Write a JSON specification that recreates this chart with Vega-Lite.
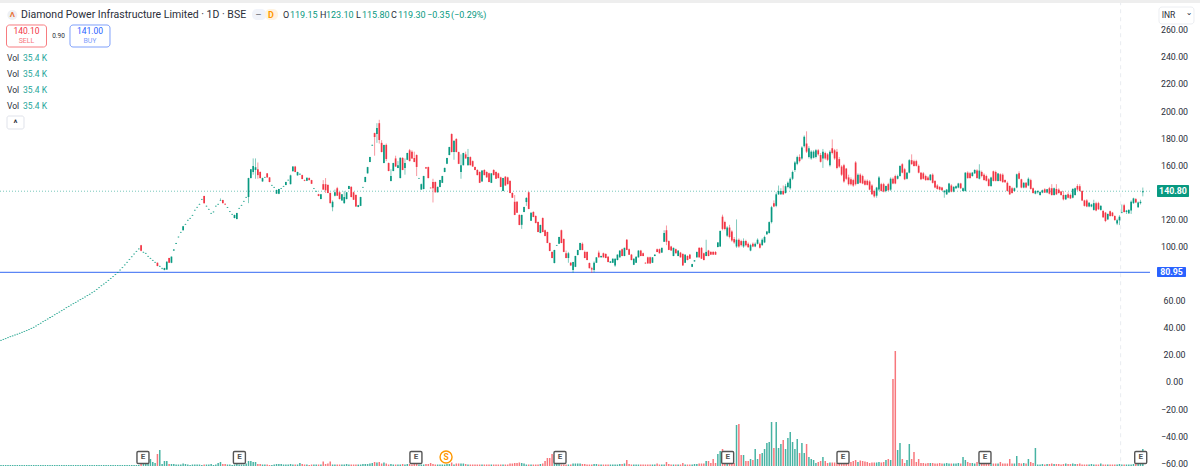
{"$schema":"https://vega.github.io/schema/vega-lite/v6.json","description":"Diamond Power daily candles with volume","width":1200,"height":473,"padding":0,"autosize":"none","background":"white","config":{"view":{"stroke":null},"text":{"font":"Roboto"}},
"datasets":{"bars":[
{"i":0,"o":30.6,"h":31.2,"l":30.4,"c":31,"v":10},{"i":1,"o":31.2,"h":31.8,"l":31,"c":31.6,"v":10},{"i":2,"o":31.8,"h":32.4,"l":31.6,"c":32.2,"v":10},{"i":3,"o":32.5,"h":33.1,"l":32.3,"c":32.9,"v":10},{"i":4,"o":33.2,"h":33.8,"l":33,"c":33.6,"v":10},{"i":5,"o":33.8,"h":34.4,"l":33.6,"c":34.2,"v":10},{"i":6,"o":34.5,"h":35.1,"l":34.3,"c":34.9,"v":10},{"i":7,"o":35.1,"h":35.7,"l":34.9,"c":35.5,"v":10},{"i":8,"o":35.8,"h":36.4,"l":35.6,"c":36.2,"v":10},{"i":9,"o":36.5,"h":37.1,"l":36.3,"c":36.9,"v":10},
{"i":10,"o":37.1,"h":37.7,"l":36.9,"c":37.5,"v":10},{"i":11,"o":37.8,"h":38.4,"l":37.6,"c":38.2,"v":10},{"i":12,"o":38.5,"h":39.1,"l":38.3,"c":38.9,"v":10},{"i":13,"o":39.4,"h":40,"l":39.2,"c":39.8,"v":10},{"i":14,"o":40.2,"h":40.8,"l":40,"c":40.6,"v":10},{"i":15,"o":41.2,"h":41.8,"l":41,"c":41.6,"v":10},{"i":16,"o":42.2,"h":42.8,"l":42,"c":42.6,"v":10},{"i":17,"o":43.2,"h":43.8,"l":43,"c":43.6,"v":10},{"i":18,"o":44.3,"h":44.9,"l":44.1,"c":44.7,"v":10},{"i":19,"o":45.3,"h":45.9,"l":45.1,"c":45.7,"v":10},
{"i":20,"o":46.3,"h":46.9,"l":46.1,"c":46.7,"v":10},{"i":21,"o":47.3,"h":47.9,"l":47.1,"c":47.7,"v":10},{"i":22,"o":48.3,"h":48.9,"l":48.1,"c":48.7,"v":10},{"i":23,"o":49.4,"h":50,"l":49.2,"c":49.8,"v":10},{"i":24,"o":50.4,"h":51,"l":50.2,"c":50.8,"v":10},{"i":25,"o":51.4,"h":52,"l":51.2,"c":51.8,"v":10},{"i":26,"o":52.4,"h":53,"l":52.2,"c":52.8,"v":10},{"i":27,"o":53.5,"h":54.1,"l":53.3,"c":53.9,"v":10},{"i":28,"o":54.6,"h":55.2,"l":54.4,"c":55,"v":10},{"i":29,"o":55.6,"h":56.2,"l":55.4,"c":56,"v":10},
{"i":30,"o":56.6,"h":57.2,"l":56.4,"c":57,"v":10},{"i":31,"o":57.6,"h":58.2,"l":57.4,"c":58,"v":10},{"i":32,"o":58.6,"h":59.2,"l":58.4,"c":59,"v":10},{"i":33,"o":59.6,"h":60.2,"l":59.4,"c":60,"v":10},{"i":34,"o":60.6,"h":61.2,"l":60.4,"c":61,"v":10},{"i":35,"o":61.6,"h":62.2,"l":61.4,"c":62,"v":10},{"i":36,"o":62.6,"h":63.2,"l":62.4,"c":63,"v":10},{"i":37,"o":63.6,"h":64.2,"l":63.4,"c":64,"v":10},{"i":38,"o":64.6,"h":65.2,"l":64.4,"c":65,"v":10},{"i":39,"o":65.6,"h":66.2,"l":65.4,"c":66,"v":10},
{"i":40,"o":66.8,"h":67.4,"l":66.6,"c":67.2,"v":10},{"i":41,"o":68.1,"h":68.7,"l":67.9,"c":68.5,"v":10},{"i":42,"o":69.4,"h":70,"l":69.2,"c":69.8,"v":10},{"i":43,"o":70.8,"h":71.4,"l":70.6,"c":71.2,"v":10},{"i":44,"o":72.1,"h":72.7,"l":71.9,"c":72.5,"v":10},{"i":45,"o":73.4,"h":74,"l":73.2,"c":73.8,"v":10},{"i":46,"o":74.8,"h":75.4,"l":74.6,"c":75.2,"v":10},{"i":47,"o":76.2,"h":76.8,"l":76,"c":76.6,"v":10},{"i":48,"o":77.6,"h":78.2,"l":77.4,"c":78,"v":10},{"i":49,"o":79.1,"h":79.7,"l":78.9,"c":79.5,"v":10},
{"i":50,"o":80.6,"h":81.2,"l":80.4,"c":81,"v":10},{"i":51,"o":82.4,"h":83,"l":82.2,"c":82.8,"v":10},{"i":52,"o":84.2,"h":84.8,"l":84,"c":84.6,"v":10},{"i":53,"o":86.2,"h":86.8,"l":86,"c":86.6,"v":10},{"i":54,"o":88.2,"h":88.8,"l":88,"c":88.6,"v":10},{"i":55,"o":90.2,"h":90.8,"l":90,"c":90.6,"v":10},{"i":56,"o":92.2,"h":92.8,"l":92,"c":92.6,"v":10},{"i":57,"o":94.2,"h":94.8,"l":94,"c":94.6,"v":10},{"i":58,"o":96.2,"h":96.8,"l":96,"c":96.6,"v":10},{"i":59,"o":98,"h":98.6,"l":97.8,"c":98.4,"v":10},
{"i":60,"o":101,"h":101.2,"l":96.5,"c":96.8,"v":40},{"i":61,"o":95.6,"h":96.2,"l":95.4,"c":96,"v":40},{"i":62,"o":94.8,"h":95.4,"l":94.6,"c":95.2,"v":40},{"i":63,"o":92.6,"h":93.2,"l":92.4,"c":93,"v":40},{"i":64,"o":91.1,"h":91.7,"l":90.9,"c":91.5,"v":70},{"i":65,"o":89.6,"h":90.2,"l":89.4,"c":90,"v":40},{"i":66,"o":88.2,"h":88.8,"l":88,"c":88.6,"v":30},{"i":67,"o":88,"h":88.2,"l":85.4,"c":85.6,"v":120},{"i":68,"o":85.2,"h":86,"l":85,"c":85.6,"v":160},{"i":69,"o":83.6,"h":84.4,"l":83.2,"c":84,"v":20},
{"i":70,"o":82.7,"h":84.3,"l":82.4,"c":84.1,"v":50},{"i":71,"o":83,"h":89,"l":82.7,"c":88.8,"v":50},{"i":72,"o":91.5,"h":91.7,"l":87.8,"c":88,"v":20},{"i":73,"o":88,"h":92.7,"l":87.7,"c":92.5,"v":20},{"i":74,"o":97,"h":98,"l":96.8,"c":97.8,"v":20},{"i":75,"o":102.1,"h":102.7,"l":101.9,"c":102.5,"v":15},{"i":76,"o":106.8,"h":107.4,"l":106.6,"c":107.2,"v":15},{"i":77,"o":110.3,"h":110.9,"l":110.1,"c":110.7,"v":15},{"i":78,"o":112,"h":115.2,"l":111.8,"c":115,"v":25},{"i":79,"o":116.2,"h":116.8,"l":116,"c":116.6,"v":20},
{"i":80,"o":119.2,"h":119.8,"l":119,"c":119.6,"v":15},{"i":81,"o":120.6,"h":121.2,"l":120.4,"c":121,"v":10},{"i":82,"o":122.8,"h":123.4,"l":122.6,"c":123.2,"v":15},{"i":83,"o":126.6,"h":127.2,"l":126.4,"c":127,"v":15},{"i":84,"o":128.8,"h":129.4,"l":128.6,"c":129.2,"v":15},{"i":85,"o":131,"h":131.6,"l":130.8,"c":131.4,"v":15},{"i":86,"o":134.6,"h":135.2,"l":134.4,"c":135,"v":10},{"i":87,"o":137.3,"h":137.5,"l":131.8,"c":132,"v":15},{"i":88,"o":129.6,"h":130.2,"l":129.4,"c":130,"v":15},{"i":89,"o":127.3,"h":127.9,"l":127.1,"c":127.7,"v":15},
{"i":90,"o":124.3,"h":124.9,"l":124.1,"c":124.7,"v":20},{"i":91,"o":125.3,"h":125.9,"l":125.1,"c":125.7,"v":10},{"i":92,"o":129.6,"h":130.2,"l":129.4,"c":130,"v":15},{"i":93,"o":131,"h":131.6,"l":130.8,"c":131.4,"v":30},{"i":94,"o":133.9,"h":135.5,"l":133.7,"c":134.3,"v":40},{"i":95,"o":134.3,"h":134.5,"l":131.8,"c":132,"v":20},{"i":96,"o":131.5,"h":131.8,"l":130.6,"c":131,"v":20},{"i":97,"o":128.6,"h":129.2,"l":128.4,"c":129,"v":15},{"i":98,"o":125.6,"h":126.2,"l":125.4,"c":126,"v":15},{"i":99,"o":123.6,"h":124.2,"l":123.4,"c":124,"v":10},
{"i":100,"o":121,"h":123.5,"l":120.8,"c":123.3,"v":15},{"i":101,"o":120.3,"h":124.9,"l":120,"c":124.7,"v":20},{"i":102,"o":128,"h":128.6,"l":127.8,"c":128.4,"v":15},{"i":103,"o":130.2,"h":130.8,"l":130,"c":130.6,"v":15},{"i":104,"o":133.2,"h":133.8,"l":133,"c":133.6,"v":15},{"i":105,"o":136.1,"h":136.7,"l":135.9,"c":136.5,"v":25},{"i":106,"o":136.5,"h":150.7,"l":132,"c":150.5,"v":50},{"i":107,"o":150.5,"h":157.2,"l":150.3,"c":157,"v":50},{"i":108,"o":155,"h":165,"l":153,"c":159.4,"v":40},{"i":109,"o":156.5,"h":165,"l":150,"c":158.5,"v":40},
{"i":110,"o":157,"h":162,"l":150,"c":152.7,"v":20},{"i":111,"o":155,"h":155.5,"l":150.2,"c":150.5,"v":20},{"i":112,"o":148,"h":150.8,"l":147.8,"c":150.5,"v":15},{"i":113,"o":150.9,"h":151.5,"l":150.7,"c":151.3,"v":15},{"i":114,"o":154,"h":154.2,"l":150.8,"c":151,"v":15},{"i":115,"o":151,"h":151.2,"l":147.4,"c":147.6,"v":10},{"i":116,"o":145,"h":145.6,"l":144.8,"c":145.4,"v":10},{"i":117,"o":143.5,"h":144.1,"l":143.3,"c":143.9,"v":15},{"i":118,"o":139,"h":142,"l":138.8,"c":141.7,"v":20},{"i":119,"o":139,"h":142.6,"l":138.6,"c":142.4,"v":20},
{"i":120,"o":142.6,"h":143.2,"l":142.4,"c":143,"v":20},{"i":121,"o":144.2,"h":144.8,"l":144,"c":144.6,"v":15},{"i":122,"o":145.4,"h":147.8,"l":145.2,"c":147.6,"v":15},{"i":123,"o":148.8,"h":149.4,"l":148.6,"c":149.2,"v":15},{"i":124,"o":146,"h":153,"l":145.8,"c":152.5,"v":20},{"i":125,"o":155.6,"h":159.2,"l":155.4,"c":159,"v":15},{"i":126,"o":159,"h":159.5,"l":154.8,"c":155,"v":15},{"i":127,"o":152.5,"h":155.2,"l":152.3,"c":155,"v":15},{"i":128,"o":153.2,"h":153.8,"l":153,"c":153.6,"v":30},{"i":129,"o":152.7,"h":153,"l":149.6,"c":149.8,"v":20},
{"i":130,"o":149,"h":149.4,"l":148.2,"c":148.5,"v":15},{"i":131,"o":148.5,"h":150.9,"l":148.3,"c":150.7,"v":15},{"i":132,"o":150.5,"h":151,"l":148.8,"c":149,"v":10},{"i":133,"o":149,"h":149.2,"l":146.1,"c":146.3,"v":15},{"i":134,"o":142.6,"h":143.2,"l":142.4,"c":143,"v":15},{"i":135,"o":140.6,"h":141.2,"l":140.4,"c":141,"v":15},{"i":136,"o":138.6,"h":138.9,"l":137.1,"c":137.3,"v":15},{"i":137,"o":135,"h":138.8,"l":134.8,"c":138.6,"v":15},{"i":138,"o":146,"h":149,"l":141.8,"c":142,"v":45},{"i":139,"o":146,"h":150.5,"l":139.5,"c":141.5,"v":20},
{"i":140,"o":145.4,"h":146,"l":139.3,"c":139.5,"v":25},{"i":141,"o":139.5,"h":140,"l":131.8,"c":132,"v":45},{"i":142,"o":129,"h":134,"l":126,"c":133,"v":15},{"i":143,"o":137.5,"h":142,"l":137,"c":140,"v":15},{"i":144,"o":143,"h":144,"l":137.3,"c":137.5,"v":15},{"i":145,"o":140,"h":140.5,"l":134.8,"c":135,"v":15},{"i":146,"o":134,"h":138.7,"l":133.8,"c":138.5,"v":15},{"i":147,"o":132,"h":141,"l":131.5,"c":136.5,"v":15},{"i":148,"o":135,"h":140.2,"l":134.8,"c":140,"v":20},{"i":149,"o":142.5,"h":144.8,"l":142.3,"c":144.6,"v":15},
{"i":150,"o":144,"h":144.5,"l":136.3,"c":136.5,"v":15},{"i":151,"o":140,"h":140.5,"l":134.3,"c":134.5,"v":15},{"i":152,"o":138,"h":138.5,"l":129.3,"c":129.5,"v":15},{"i":153,"o":129.2,"h":130.7,"l":129,"c":130.5,"v":15},{"i":154,"o":130,"h":136.7,"l":129.8,"c":136.5,"v":15},{"i":155,"o":143.5,"h":144.1,"l":143.3,"c":143.9,"v":20},{"i":156,"o":147.6,"h":151.5,"l":147.4,"c":151.3,"v":20},{"i":157,"o":154,"h":158.8,"l":153.8,"c":158.6,"v":20},{"i":158,"o":162.4,"h":166.2,"l":162.2,"c":166,"v":25},{"i":159,"o":174.5,"h":175.2,"l":174.3,"c":175,"v":30},
{"i":160,"o":183.7,"h":184,"l":167,"c":180.8,"v":40},{"i":161,"o":183,"h":191,"l":176.5,"c":187.5,"v":35},{"i":162,"o":191,"h":193.5,"l":176,"c":178.6,"v":40},{"i":163,"o":176.5,"h":178.5,"l":169.5,"c":169.7,"v":25},{"i":164,"o":161.6,"h":175.2,"l":161.4,"c":175,"v":35},{"i":165,"o":175,"h":176,"l":163,"c":164.6,"v":25},{"i":166,"o":161.6,"h":162,"l":155.5,"c":155.7,"v":15},{"i":167,"o":148.3,"h":157,"l":148,"c":152,"v":20},{"i":168,"o":155.7,"h":161.8,"l":155.5,"c":161.6,"v":15},{"i":169,"o":165,"h":167,"l":158.8,"c":159,"v":15},
{"i":170,"o":158,"h":163,"l":157.8,"c":160,"v":15},{"i":171,"o":150.5,"h":165.7,"l":150.3,"c":165.5,"v":15},{"i":172,"o":165.3,"h":166,"l":156.3,"c":156.5,"v":20},{"i":173,"o":158,"h":165,"l":153,"c":161.6,"v":15},{"i":174,"o":164,"h":169.2,"l":163.8,"c":169,"v":20},{"i":175,"o":171,"h":172,"l":162.8,"c":163,"v":20},{"i":176,"o":170,"h":171,"l":164.8,"c":165,"v":15},{"i":177,"o":165.3,"h":170,"l":162.2,"c":162.4,"v":20},{"i":178,"o":167.5,"h":168,"l":152,"c":158.7,"v":20},{"i":179,"o":150.1,"h":150.7,"l":149.9,"c":150.5,"v":15},
{"i":180,"o":142,"h":146.5,"l":141.8,"c":146,"v":15},{"i":181,"o":142.4,"h":152.2,"l":142.2,"c":152,"v":15},{"i":182,"o":158.5,"h":158.7,"l":157.3,"c":157.5,"v":20},{"i":183,"o":158.6,"h":159,"l":150.3,"c":150.5,"v":20},{"i":184,"o":143.4,"h":143.6,"l":142.8,"c":143,"v":30},{"i":185,"o":147.6,"h":150,"l":132.5,"c":143,"v":20},{"i":186,"o":147.6,"h":148,"l":139.8,"c":140,"v":15},{"i":187,"o":140,"h":144.2,"l":139.8,"c":144,"v":15},{"i":188,"o":143.9,"h":149.2,"l":143.7,"c":149,"v":15},{"i":189,"o":147,"h":152.2,"l":146.8,"c":152,"v":15},
{"i":190,"o":155,"h":158.2,"l":154.8,"c":158,"v":15},{"i":191,"o":161,"h":165.5,"l":160.8,"c":165.3,"v":20},{"i":192,"o":167.5,"h":173.6,"l":167.3,"c":173.4,"v":20},{"i":193,"o":183,"h":183.5,"l":169.5,"c":169.7,"v":35},{"i":194,"o":169.7,"h":178.2,"l":164,"c":178,"v":15},{"i":195,"o":179.3,"h":180,"l":169.5,"c":169.7,"v":25},{"i":196,"o":169.7,"h":170,"l":160.8,"c":161,"v":25},{"i":197,"o":155,"h":168,"l":150,"c":160,"v":25},{"i":198,"o":160,"h":169.2,"l":159.8,"c":169,"v":25},{"i":199,"o":168,"h":170,"l":164.8,"c":165,"v":20},
{"i":200,"o":160,"h":172,"l":159.8,"c":166,"v":15},{"i":201,"o":166,"h":166.5,"l":159.8,"c":160,"v":15},{"i":202,"o":163,"h":163.5,"l":158.8,"c":159,"v":15},{"i":203,"o":158.6,"h":159,"l":156.3,"c":156.5,"v":15},{"i":204,"o":156.5,"h":157,"l":152.5,"c":152.7,"v":15},{"i":205,"o":155,"h":155.5,"l":146.8,"c":147,"v":15},{"i":206,"o":148,"h":156.2,"l":147.8,"c":156,"v":15},{"i":207,"o":156.5,"h":157,"l":152.5,"c":152.7,"v":15},{"i":208,"o":155,"h":155.5,"l":150.8,"c":151,"v":15},{"i":209,"o":154,"h":154.5,"l":147.4,"c":147.6,"v":15},
{"i":210,"o":147,"h":154.2,"l":146.8,"c":154,"v":15},{"i":211,"o":156.5,"h":157,"l":152.5,"c":152.7,"v":15},{"i":212,"o":155,"h":155.5,"l":149.8,"c":150,"v":15},{"i":213,"o":154,"h":154.5,"l":150.3,"c":150.5,"v":15},{"i":214,"o":151,"h":151.5,"l":143.8,"c":144,"v":15},{"i":215,"o":141,"h":150.7,"l":140.8,"c":150.5,"v":15},{"i":216,"o":151.5,"h":152,"l":144.8,"c":145,"v":15},{"i":217,"o":151,"h":151.5,"l":145.8,"c":146,"v":15},{"i":218,"o":148.3,"h":149,"l":139.3,"c":139.5,"v":25},{"i":219,"o":139.5,"h":140,"l":135.8,"c":136,"v":25},
{"i":220,"o":133,"h":138,"l":123.1,"c":123.3,"v":30},{"i":221,"o":133,"h":133.5,"l":124.8,"c":125,"v":30},{"i":222,"o":123.3,"h":123.8,"l":115.7,"c":115.9,"v":35},{"i":223,"o":116,"h":123.5,"l":113,"c":123.3,"v":30},{"i":224,"o":125.5,"h":129.4,"l":125.3,"c":129.2,"v":25},{"i":225,"o":132.8,"h":136.5,"l":130,"c":135.8,"v":15},{"i":226,"o":140,"h":140.5,"l":127.5,"c":127.7,"v":15},{"i":227,"o":119,"h":125.2,"l":118.8,"c":125,"v":15},{"i":228,"o":125.5,"h":126,"l":121.6,"c":121.8,"v":15},{"i":229,"o":122.5,"h":123,"l":117.1,"c":117.3,"v":15},
{"i":230,"o":118,"h":118.5,"l":110.5,"c":110.7,"v":15},{"i":231,"o":110,"h":116.1,"l":109.8,"c":115.9,"v":20},{"i":232,"o":121,"h":121.5,"l":110.5,"c":110.7,"v":25},{"i":233,"o":112,"h":112.5,"l":107.5,"c":107.7,"v":50},{"i":234,"o":110.7,"h":111,"l":102.4,"c":102.6,"v":80},{"i":235,"o":102.6,"h":103,"l":96.5,"c":96.7,"v":80},{"i":236,"o":96,"h":96.5,"l":91.3,"c":91.5,"v":120},{"i":237,"o":87.8,"h":97.6,"l":87.5,"c":97.4,"v":110},{"i":238,"o":100.6,"h":101.2,"l":100.4,"c":101,"v":25},{"i":239,"o":102,"h":107.2,"l":101.8,"c":107,"v":20},
{"i":240,"o":112,"h":112.5,"l":102.4,"c":102.6,"v":15},{"i":241,"o":105.5,"h":106,"l":95.8,"c":96,"v":15},{"i":242,"o":95,"h":97,"l":91.3,"c":91.5,"v":15},{"i":243,"o":91.5,"h":96,"l":88,"c":95,"v":15},{"i":244,"o":88,"h":88.5,"l":85.8,"c":86,"v":15},{"i":245,"o":82.7,"h":88.7,"l":80.5,"c":88.5,"v":25},{"i":246,"o":85,"h":93.2,"l":84.8,"c":93,"v":25},{"i":247,"o":93.7,"h":97.6,"l":93.5,"c":97.4,"v":25},{"i":248,"o":97.4,"h":102.8,"l":97.2,"c":102.6,"v":25},{"i":249,"o":102,"h":103,"l":97.2,"c":97.4,"v":20},
{"i":250,"o":96,"h":97,"l":91.3,"c":91.5,"v":20},{"i":251,"o":96,"h":96.5,"l":89.8,"c":90,"v":15},{"i":252,"o":87.8,"h":88.2,"l":83.8,"c":84,"v":15},{"i":253,"o":84,"h":85,"l":80.5,"c":83,"v":15},{"i":254,"o":82.7,"h":89,"l":81,"c":88,"v":20},{"i":255,"o":88,"h":92.2,"l":87.8,"c":92,"v":20},{"i":256,"o":95.5,"h":97,"l":91.8,"c":92,"v":15},{"i":257,"o":92,"h":93.3,"l":91.8,"c":93,"v":15},{"i":258,"o":95,"h":95.5,"l":91.8,"c":92,"v":15},{"i":259,"o":94.5,"h":95,"l":91.3,"c":91.5,"v":15},
{"i":260,"o":92.5,"h":93,"l":88.3,"c":88.5,"v":15},{"i":261,"o":88,"h":89.3,"l":87.8,"c":89,"v":15},{"i":262,"o":88,"h":91.2,"l":87.8,"c":91,"v":15},{"i":263,"o":86,"h":91.2,"l":85,"c":91,"v":15},{"i":264,"o":90,"h":94.2,"l":89.8,"c":94,"v":15},{"i":265,"o":92,"h":97.2,"l":91.8,"c":97,"v":20},{"i":266,"o":98,"h":98.5,"l":92.8,"c":93,"v":20},{"i":267,"o":93,"h":99.2,"l":92.8,"c":99,"v":25},{"i":268,"o":105,"h":105.5,"l":97.3,"c":97.5,"v":60},{"i":269,"o":98,"h":98.5,"l":93.8,"c":94,"v":20},
{"i":270,"o":94,"h":94.5,"l":89.8,"c":90,"v":15},{"i":271,"o":86.5,"h":91.2,"l":86.3,"c":91,"v":15},{"i":272,"o":88,"h":92.7,"l":87.8,"c":92.5,"v":15},{"i":273,"o":92,"h":97.2,"l":91.8,"c":97,"v":15},{"i":274,"o":97,"h":97.5,"l":92.8,"c":93,"v":15},{"i":275,"o":95,"h":95.5,"l":92.8,"c":93,"v":15},{"i":276,"o":88,"h":88.3,"l":87.3,"c":87.5,"v":15},{"i":277,"o":92,"h":92.5,"l":87.3,"c":87.5,"v":15},{"i":278,"o":92,"h":92.5,"l":87.3,"c":87.5,"v":15},{"i":279,"o":88,"h":92.2,"l":87.8,"c":92,"v":15},
{"i":280,"o":93,"h":94.2,"l":92.8,"c":94,"v":15},{"i":281,"o":98,"h":98.5,"l":95.8,"c":96,"v":25},{"i":282,"o":98,"h":98.5,"l":94.8,"c":95,"v":15},{"i":283,"o":95.5,"h":99.2,"l":95.3,"c":99,"v":15},{"i":284,"o":103.5,"h":112,"l":103.3,"c":110,"v":15},{"i":285,"o":112,"h":115.5,"l":101,"c":103.5,"v":40},{"i":286,"o":104,"h":104.5,"l":97.3,"c":97.5,"v":20},{"i":287,"o":100,"h":100.5,"l":96.8,"c":97,"v":15},{"i":288,"o":93,"h":99.2,"l":92.8,"c":99,"v":15},{"i":289,"o":98,"h":98.5,"l":94.8,"c":95,"v":15},
{"i":290,"o":93,"h":97.2,"l":92.8,"c":97,"v":15},{"i":291,"o":95.5,"h":96,"l":91.8,"c":92,"v":15},{"i":292,"o":94.5,"h":95,"l":85.8,"c":86,"v":30},{"i":293,"o":88,"h":94.2,"l":87.8,"c":94,"v":15},{"i":294,"o":93,"h":93.5,"l":89.8,"c":90,"v":15},{"i":295,"o":94,"h":94.5,"l":90.8,"c":91,"v":15},{"i":296,"o":85,"h":87.2,"l":84.8,"c":87,"v":15},{"i":297,"o":89,"h":90,"l":88.8,"c":89.8,"v":20},{"i":298,"o":92,"h":96.2,"l":91.8,"c":96,"v":20},{"i":299,"o":99,"h":99.5,"l":91.8,"c":92,"v":25},
{"i":300,"o":99,"h":99.5,"l":90.8,"c":91,"v":25},{"i":301,"o":95,"h":95.5,"l":89.8,"c":90,"v":25},{"i":302,"o":93,"h":105,"l":92.8,"c":96,"v":50},{"i":303,"o":97,"h":97.5,"l":92.8,"c":93,"v":50},{"i":304,"o":96,"h":96.5,"l":93.8,"c":94,"v":30},{"i":305,"o":96,"h":96.5,"l":93.8,"c":94,"v":70},{"i":306,"o":96,"h":96.5,"l":93.8,"c":94,"v":30},{"i":307,"o":99.6,"h":103.2,"l":99.4,"c":103,"v":120},{"i":308,"o":100,"h":111.7,"l":99.8,"c":111.5,"v":150},{"i":309,"o":122,"h":123.5,"l":112,"c":113,"v":170},
{"i":310,"o":118,"h":119,"l":112,"c":113,"v":30},{"i":311,"o":108,"h":115,"l":107,"c":114,"v":30},{"i":312,"o":114,"h":116,"l":106,"c":107,"v":30},{"i":313,"o":111,"h":112,"l":103.5,"c":104.5,"v":30},{"i":314,"o":105.5,"h":107,"l":102,"c":103,"v":30},{"i":315,"o":100,"h":120,"l":99,"c":105,"v":410},{"i":316,"o":105,"h":106,"l":99,"c":100,"v":420},{"i":317,"o":104,"h":105,"l":100,"c":101,"v":110},{"i":318,"o":100,"h":106,"l":99,"c":104,"v":110},{"i":319,"o":104,"h":105,"l":100,"c":101,"v":50},
{"i":320,"o":102,"h":103,"l":99,"c":99.5,"v":50},{"i":321,"o":97,"h":102,"l":96.5,"c":101,"v":70},{"i":322,"o":102,"h":103,"l":99.5,"c":100,"v":60},{"i":323,"o":100,"h":103,"l":99.5,"c":102,"v":170},{"i":324,"o":102,"h":106,"l":101.5,"c":105,"v":70},{"i":325,"o":102,"h":103,"l":98.5,"c":99,"v":120},{"i":326,"o":101,"h":106,"l":100.5,"c":105,"v":130},{"i":327,"o":103,"h":108,"l":102.5,"c":107,"v":170},{"i":328,"o":109,"h":111.5,"l":108.5,"c":111,"v":230},{"i":329,"o":110,"h":118.5,"l":109.5,"c":118,"v":240},
{"i":330,"o":118,"h":130,"l":117,"c":129,"v":440},{"i":331,"o":132,"h":134,"l":129,"c":129.5,"v":180},{"i":332,"o":130,"h":140,"l":129,"c":138.5,"v":440},{"i":333,"o":138.5,"h":145,"l":138,"c":141,"v":180},{"i":334,"o":138.5,"h":143,"l":138,"c":141,"v":220},{"i":335,"o":141,"h":145,"l":138,"c":138.5,"v":260},{"i":336,"o":139.5,"h":146,"l":139,"c":144.5,"v":170},{"i":337,"o":144,"h":148,"l":143,"c":147,"v":280},{"i":338,"o":143,"h":151,"l":142,"c":150,"v":340},{"i":339,"o":150,"h":156,"l":149,"c":155,"v":240},
{"i":340,"o":156.5,"h":163,"l":155,"c":162,"v":170},{"i":341,"o":161,"h":167,"l":160,"c":166,"v":270},{"i":342,"o":166,"h":168,"l":162,"c":163,"v":130},{"i":343,"o":165,"h":174,"l":164,"c":173,"v":230},{"i":344,"o":174,"h":182,"l":173,"c":181,"v":130},{"i":345,"o":176,"h":185,"l":169,"c":170,"v":220},{"i":346,"o":166,"h":174,"l":165,"c":172.5,"v":90},{"i":347,"o":165,"h":171,"l":164,"c":170,"v":70},{"i":348,"o":165.5,"h":171,"l":165,"c":170,"v":60},{"i":349,"o":166,"h":172,"l":165,"c":171,"v":30},
{"i":350,"o":171,"h":172,"l":167,"c":168,"v":40},{"i":351,"o":167.5,"h":169,"l":162,"c":162.5,"v":50},{"i":352,"o":165,"h":172,"l":158,"c":170,"v":90},{"i":353,"o":169,"h":170,"l":164,"c":165,"v":50},{"i":354,"o":168,"h":169,"l":163,"c":164,"v":30},{"i":355,"o":160,"h":171,"l":159,"c":170,"v":35},{"i":356,"o":172.5,"h":179,"l":168,"c":169,"v":35},{"i":357,"o":171,"h":172,"l":164,"c":165,"v":35},{"i":358,"o":170,"h":172,"l":157,"c":158,"v":30},{"i":359,"o":164.5,"h":166,"l":158,"c":159,"v":35},
{"i":360,"o":159,"h":160,"l":152,"c":153,"v":30},{"i":361,"o":160,"h":161,"l":147,"c":148,"v":30},{"i":362,"o":157.5,"h":158,"l":149,"c":150,"v":35},{"i":363,"o":151,"h":153,"l":145,"c":146,"v":30},{"i":364,"o":149.6,"h":151,"l":145,"c":146,"v":40},{"i":365,"o":149,"h":150,"l":144,"c":145,"v":50},{"i":366,"o":162,"h":163,"l":145,"c":146,"v":60},{"i":367,"o":146.4,"h":154,"l":146,"c":153,"v":40},{"i":368,"o":153,"h":154,"l":146.5,"c":147,"v":55},{"i":369,"o":152,"h":153,"l":146,"c":146.5,"v":50},
{"i":370,"o":148.5,"h":149.5,"l":145,"c":145.5,"v":45},{"i":371,"o":148.5,"h":149.5,"l":145,"c":145.5,"v":40},{"i":372,"o":148,"h":149,"l":141.5,"c":142,"v":30},{"i":373,"o":145,"h":146,"l":138,"c":138.5,"v":35},{"i":374,"o":141,"h":142,"l":136,"c":137,"v":35},{"i":375,"o":137.5,"h":144,"l":136,"c":143.5,"v":35},{"i":376,"o":142,"h":152,"l":141,"c":151,"v":40},{"i":377,"o":146,"h":147,"l":140.5,"c":141,"v":35},{"i":378,"o":146,"h":147,"l":140,"c":140.5,"v":40},{"i":379,"o":141,"h":145,"l":140,"c":144.7,"v":60},
{"i":380,"o":146,"h":147,"l":141,"c":141.5,"v":70},{"i":381,"o":142,"h":151,"l":141,"c":150,"v":60},{"i":382,"o":150,"h":151,"l":146,"c":146.5,"v":870},{"i":383,"o":152,"h":153,"l":146,"c":146.5,"v":1150},{"i":384,"o":150,"h":153,"l":149.5,"c":152,"v":160},{"i":385,"o":152,"h":160,"l":151.5,"c":159.5,"v":230},{"i":386,"o":160.7,"h":161.5,"l":154,"c":154.5,"v":70},{"i":387,"o":157,"h":158,"l":149,"c":149.6,"v":30},{"i":388,"o":150,"h":155,"l":149.5,"c":154.5,"v":60},{"i":389,"o":154.5,"h":164.5,"l":154,"c":163.7,"v":220},
{"i":390,"o":163.7,"h":168,"l":160.5,"c":160.7,"v":70},{"i":391,"o":163,"h":164,"l":159,"c":159.5,"v":140},{"i":392,"o":163,"h":164,"l":159,"c":159.5,"v":40},{"i":393,"o":159.5,"h":160.5,"l":154,"c":154.5,"v":70},{"i":394,"o":154.5,"h":155,"l":149,"c":149.6,"v":30},{"i":395,"o":154,"h":155,"l":149.5,"c":150,"v":30},{"i":396,"o":152,"h":153,"l":148.5,"c":149,"v":25},{"i":397,"o":151,"h":152,"l":148.5,"c":149,"v":30},{"i":398,"o":149,"h":153.5,"l":148.5,"c":153,"v":30},{"i":399,"o":153,"h":154,"l":146.5,"c":147,"v":30},
{"i":400,"o":148.4,"h":149,"l":143,"c":143.5,"v":25},{"i":401,"o":145,"h":146,"l":142,"c":142.5,"v":25},{"i":402,"o":144,"h":144.5,"l":141.5,"c":142,"v":30},{"i":403,"o":143.5,"h":144,"l":141,"c":141.5,"v":25},{"i":404,"o":140,"h":141.5,"l":136,"c":141.2,"v":25},{"i":405,"o":138.5,"h":142.5,"l":138,"c":142,"v":30},{"i":406,"o":140,"h":147,"l":139.5,"c":146.5,"v":25},{"i":407,"o":145,"h":146,"l":140,"c":140.5,"v":25},{"i":408,"o":140.5,"h":144.5,"l":140,"c":144,"v":25},{"i":409,"o":143,"h":145,"l":142.5,"c":144.5,"v":25},
{"i":410,"o":143.5,"h":147,"l":143,"c":146.5,"v":30},{"i":411,"o":146.5,"h":147,"l":142.5,"c":143,"v":25},{"i":412,"o":141,"h":143.5,"l":140.5,"c":143,"v":90},{"i":413,"o":141,"h":154.8,"l":140.5,"c":154.5,"v":60},{"i":414,"o":154.5,"h":155.5,"l":150,"c":150.5,"v":40},{"i":415,"o":154,"h":155,"l":150,"c":150.5,"v":30},{"i":416,"o":152,"h":155,"l":151.5,"c":154.5,"v":30},{"i":417,"o":154,"h":157,"l":153.5,"c":156.5,"v":25},{"i":418,"o":156,"h":157,"l":150,"c":150.5,"v":40},{"i":419,"o":150,"h":160.7,"l":149.5,"c":156,"v":30},
{"i":420,"o":155,"h":156,"l":151,"c":152,"v":35},{"i":421,"o":153,"h":154,"l":148.5,"c":149,"v":30},{"i":422,"o":152,"h":153,"l":148,"c":148.5,"v":25},{"i":423,"o":149.6,"h":150.5,"l":144.2,"c":144.7,"v":25},{"i":424,"o":144.7,"h":151.5,"l":144,"c":151,"v":30},{"i":425,"o":155.5,"h":156,"l":148,"c":148.4,"v":25},{"i":426,"o":155,"h":156,"l":148,"c":148.5,"v":25},{"i":427,"o":148.4,"h":154.3,"l":148,"c":153.8,"v":25},{"i":428,"o":153.3,"h":154,"l":148,"c":148.4,"v":40},{"i":429,"o":153,"h":154,"l":147,"c":147.5,"v":25},
{"i":430,"o":149,"h":149.5,"l":147,"c":147.5,"v":25},{"i":431,"o":147,"h":148,"l":140.5,"c":141,"v":25},{"i":432,"o":144.7,"h":145,"l":138,"c":138.5,"v":70},{"i":433,"o":143,"h":144,"l":139,"c":139.5,"v":25},{"i":434,"o":141,"h":143.5,"l":140.5,"c":143,"v":25},{"i":435,"o":143.5,"h":153.8,"l":143,"c":153.3,"v":100},{"i":436,"o":154,"h":155.5,"l":149.5,"c":150,"v":30},{"i":437,"o":149.6,"h":150,"l":143,"c":143.5,"v":25},{"i":438,"o":143.5,"h":147.5,"l":143,"c":147,"v":30},{"i":439,"o":147,"h":147.5,"l":143,"c":143.5,"v":25},
{"i":440,"o":145,"h":151,"l":144.5,"c":150,"v":70},{"i":441,"o":149,"h":150,"l":142,"c":142.5,"v":40},{"i":442,"o":143,"h":143.5,"l":139,"c":139.5,"v":30},{"i":443,"o":139,"h":141.5,"l":138.5,"c":141,"v":180},{"i":444,"o":140,"h":141.5,"l":139,"c":141,"v":15},{"i":445,"o":138,"h":140.8,"l":137.5,"c":140.3,"v":15},{"i":446,"o":139.8,"h":142,"l":139.3,"c":141.5,"v":20},{"i":447,"o":142.2,"h":143,"l":139.5,"c":139.8,"v":15},{"i":448,"o":139.8,"h":142.5,"l":139.3,"c":142.2,"v":20},{"i":449,"o":143,"h":144,"l":138.5,"c":139,"v":20},
{"i":450,"o":143,"h":146,"l":137.5,"c":138,"v":25},{"i":451,"o":138,"h":143.5,"l":137.5,"c":143,"v":20},{"i":452,"o":142.5,"h":146,"l":138,"c":138.5,"v":20},{"i":453,"o":142,"h":143,"l":139,"c":139.5,"v":20},{"i":454,"o":140.5,"h":141,"l":137.5,"c":138,"v":15},{"i":455,"o":138,"h":141,"l":134,"c":134.8,"v":20},{"i":456,"o":134.8,"h":138.5,"l":134.3,"c":138,"v":25},{"i":457,"o":138.5,"h":140,"l":135.5,"c":136,"v":20},{"i":458,"o":138,"h":139,"l":135,"c":135.5,"v":20},{"i":459,"o":136,"h":143,"l":135.5,"c":142.5,"v":25},
{"i":460,"o":138,"h":143.5,"l":137.5,"c":143,"v":20},{"i":461,"o":144.7,"h":146,"l":141,"c":142,"v":20},{"i":462,"o":144.5,"h":146,"l":140.5,"c":141,"v":25},{"i":463,"o":141,"h":141.5,"l":133.5,"c":134,"v":15},{"i":464,"o":134,"h":134.5,"l":129.5,"c":130,"v":15},{"i":465,"o":134,"h":135,"l":129,"c":129.5,"v":15},{"i":466,"o":129.5,"h":132.8,"l":129,"c":132.3,"v":15},{"i":467,"o":129.5,"h":131.5,"l":129,"c":131,"v":20},{"i":468,"o":127,"h":134.5,"l":126.5,"c":132,"v":15},{"i":469,"o":132,"h":133,"l":126,"c":126.5,"v":15},
{"i":470,"o":132,"h":133,"l":127,"c":127.5,"v":15},{"i":471,"o":127,"h":130.5,"l":126.5,"c":130,"v":25},{"i":472,"o":126.2,"h":127,"l":121,"c":121.5,"v":15},{"i":473,"o":125,"h":125.5,"l":118,"c":118.8,"v":15},{"i":474,"o":120,"h":124.5,"l":119.5,"c":124,"v":15},{"i":475,"o":126,"h":126.5,"l":122,"c":122.5,"v":15},{"i":476,"o":125,"h":125.5,"l":122,"c":122.5,"v":15},{"i":477,"o":122.5,"h":123,"l":119,"c":119.5,"v":15},{"i":478,"o":117,"h":120.5,"l":115.8,"c":119.3,"v":15},{"i":479,"o":119.3,"h":123.1,"l":115.8,"c":122,"v":20},
{"i":480,"o":125,"h":131,"l":124.5,"c":125.5,"v":15},{"i":481,"o":130.5,"h":131.5,"l":125,"c":125.5,"v":15},{"i":482,"o":125.5,"h":127,"l":124,"c":126.5,"v":15},{"i":483,"o":124.5,"h":127.5,"l":124,"c":127,"v":15},{"i":484,"o":126.5,"h":134,"l":124,"c":133,"v":15},{"i":485,"o":132,"h":136,"l":131.5,"c":135.5,"v":20},{"i":486,"o":135,"h":135.8,"l":132,"c":132.5,"v":25},{"i":487,"o":129,"h":133.2,"l":128.5,"c":132.5,"v":25},{"i":488,"o":132,"h":134.5,"l":131,"c":133,"v":25},{"i":489,"o":140,"h":143.5,"l":137,"c":140.8,"v":170}
],"events":[{"i":60.8,"t":"E"},{"i":102.1,"t":"E"},{"i":177.7,"t":"E"},{"i":239.4,"t":"E"},{"i":311.2,"t":"E"},{"i":360.6,"t":"E"},{"i":421.4,"t":"E"},{"i":488.1,"t":"E"}],"splits":[{"i":190.6,"t":"S"}]},
"data":{"name":"bars"},
"encoding":{"x":{"type":"quantitative","scale":{"domain":[-0.428,513.49],"nice":false,"zero":false},"axis":null}},
"layer":[
{"mark":{"type":"rule","strokeWidth":1.5},"encoding":{"x":{"field":"i"},"y":{"field":"v","type":"quantitative","scale":{"domain":[-70,4660],"nice":false,"zero":false},"axis":null},"y2":{"datum":0},"color":{"condition":{"test":"datum.c>=datum.o","value":"#47b3a3"},"value":"#f7777c"}}},
{"encoding":{"y":{"type":"quantitative","scale":{"domain":[-67.16,281.92],"nice":false,"zero":false},"axis":{"title":null,"orient":"right","offset":-50,"values":[260,240,220,200,180,160,140,120,100,60,40,20,0,-20,-40,-60],"labelExpr":"replace(format(datum.value,'.2f'),'-','−')","domain":false,"ticks":false,"grid":false,"labelAlign":"center","labelPadding":24,"labelFont":"Roboto","labelFontSize":8.8,"labelColor":"#2a2e39"}}},"layer":[
{"data":{"values":[{}]},"mark":{"type":"rule","stroke":"#e9ecf0","strokeWidth":1,"strokeDash":[4,4]},"encoding":{"x":{"datum":479.5},"y":{"datum":281},"y2":{"datum":-63}}},
{"data":{"values":[{}]},"mark":{"type":"rule","stroke":"#089981","strokeOpacity":0.55,"strokeWidth":1,"strokeDash":[1,2]},"encoding":{"x":{"datum":-0.428},"x2":{"datum":492.07},"y":{"datum":140.8}}},
{"data":{"values":[{}]},"mark":{"type":"rule","stroke":"#5b86f5","strokeWidth":1.3},"encoding":{"x":{"datum":-0.428},"x2":{"datum":492.07},"y":{"datum":80.95}}},
{"mark":{"type":"rule","strokeWidth":1,"opacity":0.5},"encoding":{"x":{"field":"i"},"y":{"field":"l"},"y2":{"field":"h"},"color":{"condition":{"test":"datum.c>=datum.o","value":"#089981"},"value":"#F23645"}}},
{"mark":{"type":"rule","strokeWidth":1.7},"encoding":{"x":{"field":"i"},"y":{"field":"o"},"y2":{"field":"c"},"color":{"condition":{"test":"datum.c>=datum.o","value":"#089981"},"value":"#F23645"}}},
{"data":{"name":"events"},"mark":{"type":"point","shape":"M-0.8,-1H0.8Q1,-1 1,-0.8V0.8Q1,1 0.8,1H-0.8Q-1,1 -1,0.8V-0.8Q-1,-1 -0.8,-1Z","size":144,"filled":true,"fill":"white","stroke":"#555555","strokeWidth":1.4,"opacity":1},"encoding":{"x":{"field":"i"},"y":{"datum":-55.72}}},
{"data":{"name":"events"},"mark":{"type":"text","fontSize":8,"fontWeight":"bold","color":"#555555"},"encoding":{"x":{"field":"i"},"y":{"datum":-55.72},"text":{"field":"t"}}},
{"data":{"name":"splits"},"mark":{"type":"point","shape":"circle","size":144,"filled":true,"fill":"white","stroke":"#ff9800","strokeWidth":1.4,"opacity":1},"encoding":{"x":{"field":"i"},"y":{"datum":-55.35}}},
{"data":{"name":"splits"},"mark":{"type":"text","fontSize":8.5,"fontWeight":"bold","color":"#ff9800"},"encoding":{"x":{"field":"i"},"y":{"datum":-55.35},"text":{"field":"t"}}},
{"data":{"values":[{}]},"mark":{"type":"rect","fill":"#eeeeee"},"encoding":{"x":{"datum":-0.428},"x2":{"datum":513.49},"y":{"datum":281.92},"y2":{"datum":279.71}}},
{"data":{"values":[{}]},"mark":{"type":"rect","fill":"#089981","cornerRadius":1},"encoding":{"x":{"datum":495.08},"x2":{"datum":508.79},"y":{"datum":145.39},"y2":{"datum":136.53}}},
{"data":{"values":[{"t":"140.80"}]},"mark":{"type":"text","fill":"white","fontSize":8.8,"fontWeight":"bold"},"encoding":{"x":{"datum":501.93},"y":{"datum":140.8},"text":{"field":"t"}}},
{"data":{"values":[{}]},"mark":{"type":"rect","fill":"#2962ff","cornerRadius":1},"encoding":{"x":{"datum":495.08},"x2":{"datum":507.5},"y":{"datum":84.87},"y2":{"datum":77.49}}},
{"data":{"values":[{"t":"80.95"}]},"mark":{"type":"text","fill":"white","fontSize":8.8,"fontWeight":"bold"},"encoding":{"x":{"datum":501.3},"y":{"datum":80.95},"text":{"field":"t"}}},
{"data":{"values":[{}]},"mark":{"type":"rect","fill":"white","stroke":"#eceef2","cornerRadius":3},"encoding":{"x":{"datum":495.93},"x2":{"datum":510.92},"y":{"datum":276.75},"y2":{"datum":264.21}}},
{"data":{"values":[{"t":"INR"}]},"mark":{"type":"text","align":"left","fill":"#2a2e39","fontSize":8.5},"encoding":{"x":{"datum":497.1},"y":{"datum":270.85},"text":{"field":"t"}}},
{"data":{"values":[{"t":"⌄"}]},"mark":{"type":"text","fill":"#2a2e39","fontSize":8,"font":"DejaVu Sans"},"encoding":{"x":{"datum":508.79},"y":{"datum":272},"text":{"field":"t"}}},
{"data":{"values":[{}]},"mark":{"type":"point","shape":"circle","size":100,"filled":true,"fill":"#eef0f4","opacity":1},"encoding":{"x":{"datum":4.84},"y":{"datum":270.85}}},
{"data":{"values":[{"t":"Λ"}]},"mark":{"type":"text","fill":"#e8743b","fontSize":8,"fontWeight":"bold"},"encoding":{"x":{"datum":4.84},"y":{"datum":270.85},"text":{"field":"t"}}},
{"data":{"values":[{"t":"Diamond Power Infrastructure Limited · 1D · BSE"}]},"mark":{"type":"text","align":"left","fill":"#2a2e39","fontSize":10.5},"encoding":{"x":{"datum":8.57},"y":{"datum":270.85},"text":{"field":"t"}}},
{"data":{"values":[{}]},"mark":{"type":"rect","fill":"#f0f3fa","cornerRadius":5},"encoding":{"x":{"datum":107.5},"x2":{"datum":113.6},"y":{"datum":275.28},"y2":{"datum":267.16}}},
{"data":{"values":[{}]},"mark":{"type":"rect","fill":"#fff3e0","cornerRadius":5},"encoding":{"x":{"datum":113.06},"x2":{"datum":118.63},"y":{"datum":275.28},"y2":{"datum":267.16}}},
{"data":{"values":[{"t":"—"}]},"mark":{"type":"text","fill":"#787b86","fontSize":7,"fontWeight":"bold"},"encoding":{"x":{"datum":110.28},"y":{"datum":270.85},"text":{"field":"t"}}},
{"data":{"values":[{"t":"D"}]},"mark":{"type":"text","fill":"#ff9800","fontSize":9,"fontWeight":"bold"},"encoding":{"x":{"datum":115.63},"y":{"datum":270.85},"text":{"field":"t"}}},
{"data":{"values":[{"t":"O"}]},"mark":{"type":"text","align":"left","fill":"#2a2e39","fontSize":9},"encoding":{"x":{"datum":120.77},"y":{"datum":270.85},"text":{"field":"t"}}},
{"data":{"values":[{"t":"119.15"}]},"mark":{"type":"text","align":"left","fill":"#089981","fontSize":9},"encoding":{"x":{"datum":123.77},"y":{"datum":270.85},"text":{"field":"t"}}},
{"data":{"values":[{"t":"H"}]},"mark":{"type":"text","align":"left","fill":"#2a2e39","fontSize":9},"encoding":{"x":{"datum":136.62},"y":{"datum":270.85},"text":{"field":"t"}}},
{"data":{"values":[{"t":"123.10"}]},"mark":{"type":"text","align":"left","fill":"#089981","fontSize":9},"encoding":{"x":{"datum":139.19},"y":{"datum":270.85},"text":{"field":"t"}}},
{"data":{"values":[{"t":"L"}]},"mark":{"type":"text","align":"left","fill":"#2a2e39","fontSize":9},"encoding":{"x":{"datum":152.03},"y":{"datum":270.85},"text":{"field":"t"}}},
{"data":{"values":[{"t":"115.80"}]},"mark":{"type":"text","align":"left","fill":"#089981","fontSize":9},"encoding":{"x":{"datum":154.6},"y":{"datum":270.85},"text":{"field":"t"}}},
{"data":{"values":[{"t":"C"}]},"mark":{"type":"text","align":"left","fill":"#2a2e39","fontSize":9},"encoding":{"x":{"datum":167.03},"y":{"datum":270.85},"text":{"field":"t"}}},
{"data":{"values":[{"t":"119.30"}]},"mark":{"type":"text","align":"left","fill":"#089981","fontSize":9},"encoding":{"x":{"datum":170.02},"y":{"datum":270.85},"text":{"field":"t"}}},
{"data":{"values":[{"t":"−0.35"}]},"mark":{"type":"text","align":"left","fill":"#089981","fontSize":9},"encoding":{"x":{"datum":182.44},"y":{"datum":270.85},"text":{"field":"t"}}},
{"data":{"values":[{"t":"(−0.29%)"}]},"mark":{"type":"text","align":"left","fill":"#089981","fontSize":9},"encoding":{"x":{"datum":192.72},"y":{"datum":270.85},"text":{"field":"t"}}},
{"data":{"values":[{}]},"mark":{"type":"rect","fill":"white","stroke":"#f77c80","cornerRadius":3},"encoding":{"x":{"datum":2.36},"x2":{"datum":19.49},"y":{"datum":263.47},"y2":{"datum":247.23}}},
{"data":{"values":[{"t":"140.10"}]},"mark":{"type":"text","fill":"#f23645","fontSize":8.5},"encoding":{"x":{"datum":10.92},"y":{"datum":259.04},"text":{"field":"t"}}},
{"data":{"values":[{"t":"SELL"}]},"mark":{"type":"text","fill":"#f7777c","fontSize":7},"encoding":{"x":{"datum":10.92},"y":{"datum":251.66},"text":{"field":"t"}}},
{"data":{"values":[{"t":"0.90"}]},"mark":{"type":"text","fill":"#2a2e39","fontSize":6.5},"encoding":{"x":{"datum":24.63},"y":{"datum":255.35},"text":{"field":"t"}}},
{"data":{"values":[{}]},"mark":{"type":"rect","fill":"white","stroke":"#7fa0fb","cornerRadius":3},"encoding":{"x":{"datum":29.55},"x2":{"datum":46.68},"y":{"datum":263.47},"y2":{"datum":247.23}}},
{"data":{"values":[{"t":"141.00"}]},"mark":{"type":"text","fill":"#2962ff","fontSize":8.5},"encoding":{"x":{"datum":38.12},"y":{"datum":259.04},"text":{"field":"t"}}},
{"data":{"values":[{"t":"BUY"}]},"mark":{"type":"text","fill":"#7fa0fb","fontSize":7},"encoding":{"x":{"datum":38.12},"y":{"datum":251.66},"text":{"field":"t"}}},
{"data":{"values":[{"t":"Vol"}]},"mark":{"type":"text","align":"left","fill":"#2a2e39","fontSize":8.5},"encoding":{"x":{"datum":2.57},"y":{"datum":239.12},"text":{"field":"t"}}},
{"data":{"values":[{"t":"35.4 K"}]},"mark":{"type":"text","align":"left","fill":"#26a69a","fontSize":8.5},"encoding":{"x":{"datum":9.42},"y":{"datum":239.12},"text":{"field":"t"}}},
{"data":{"values":[{"t":"Vol"}]},"mark":{"type":"text","align":"left","fill":"#2a2e39","fontSize":8.5},"encoding":{"x":{"datum":2.57},"y":{"datum":227.31},"text":{"field":"t"}}},
{"data":{"values":[{"t":"35.4 K"}]},"mark":{"type":"text","align":"left","fill":"#26a69a","fontSize":8.5},"encoding":{"x":{"datum":9.42},"y":{"datum":227.31},"text":{"field":"t"}}},
{"data":{"values":[{"t":"Vol"}]},"mark":{"type":"text","align":"left","fill":"#2a2e39","fontSize":8.5},"encoding":{"x":{"datum":2.57},"y":{"datum":215.5},"text":{"field":"t"}}},
{"data":{"values":[{"t":"35.4 K"}]},"mark":{"type":"text","align":"left","fill":"#26a69a","fontSize":8.5},"encoding":{"x":{"datum":9.42},"y":{"datum":215.5},"text":{"field":"t"}}},
{"data":{"values":[{"t":"Vol"}]},"mark":{"type":"text","align":"left","fill":"#2a2e39","fontSize":8.5},"encoding":{"x":{"datum":2.57},"y":{"datum":203.69},"text":{"field":"t"}}},
{"data":{"values":[{"t":"35.4 K"}]},"mark":{"type":"text","align":"left","fill":"#26a69a","fontSize":8.5},"encoding":{"x":{"datum":9.42},"y":{"datum":203.69},"text":{"field":"t"}}},
{"data":{"values":[{}]},"mark":{"type":"rect","fill":"white","stroke":"#e0e3eb","cornerRadius":2},"encoding":{"x":{"datum":2.57},"x2":{"datum":9.85},"y":{"datum":196.31},"y2":{"datum":186.72}}},
{"data":{"values":[{"t":"^"}]},"mark":{"type":"text","fill":"#2a2e39","fontSize":9,"fontWeight":"bold"},"encoding":{"x":{"datum":6.21},"y":{"datum":190.8},"text":{"field":"t"}}}
]}
],
"resolve":{"scale":{"y":"independent"}}}
